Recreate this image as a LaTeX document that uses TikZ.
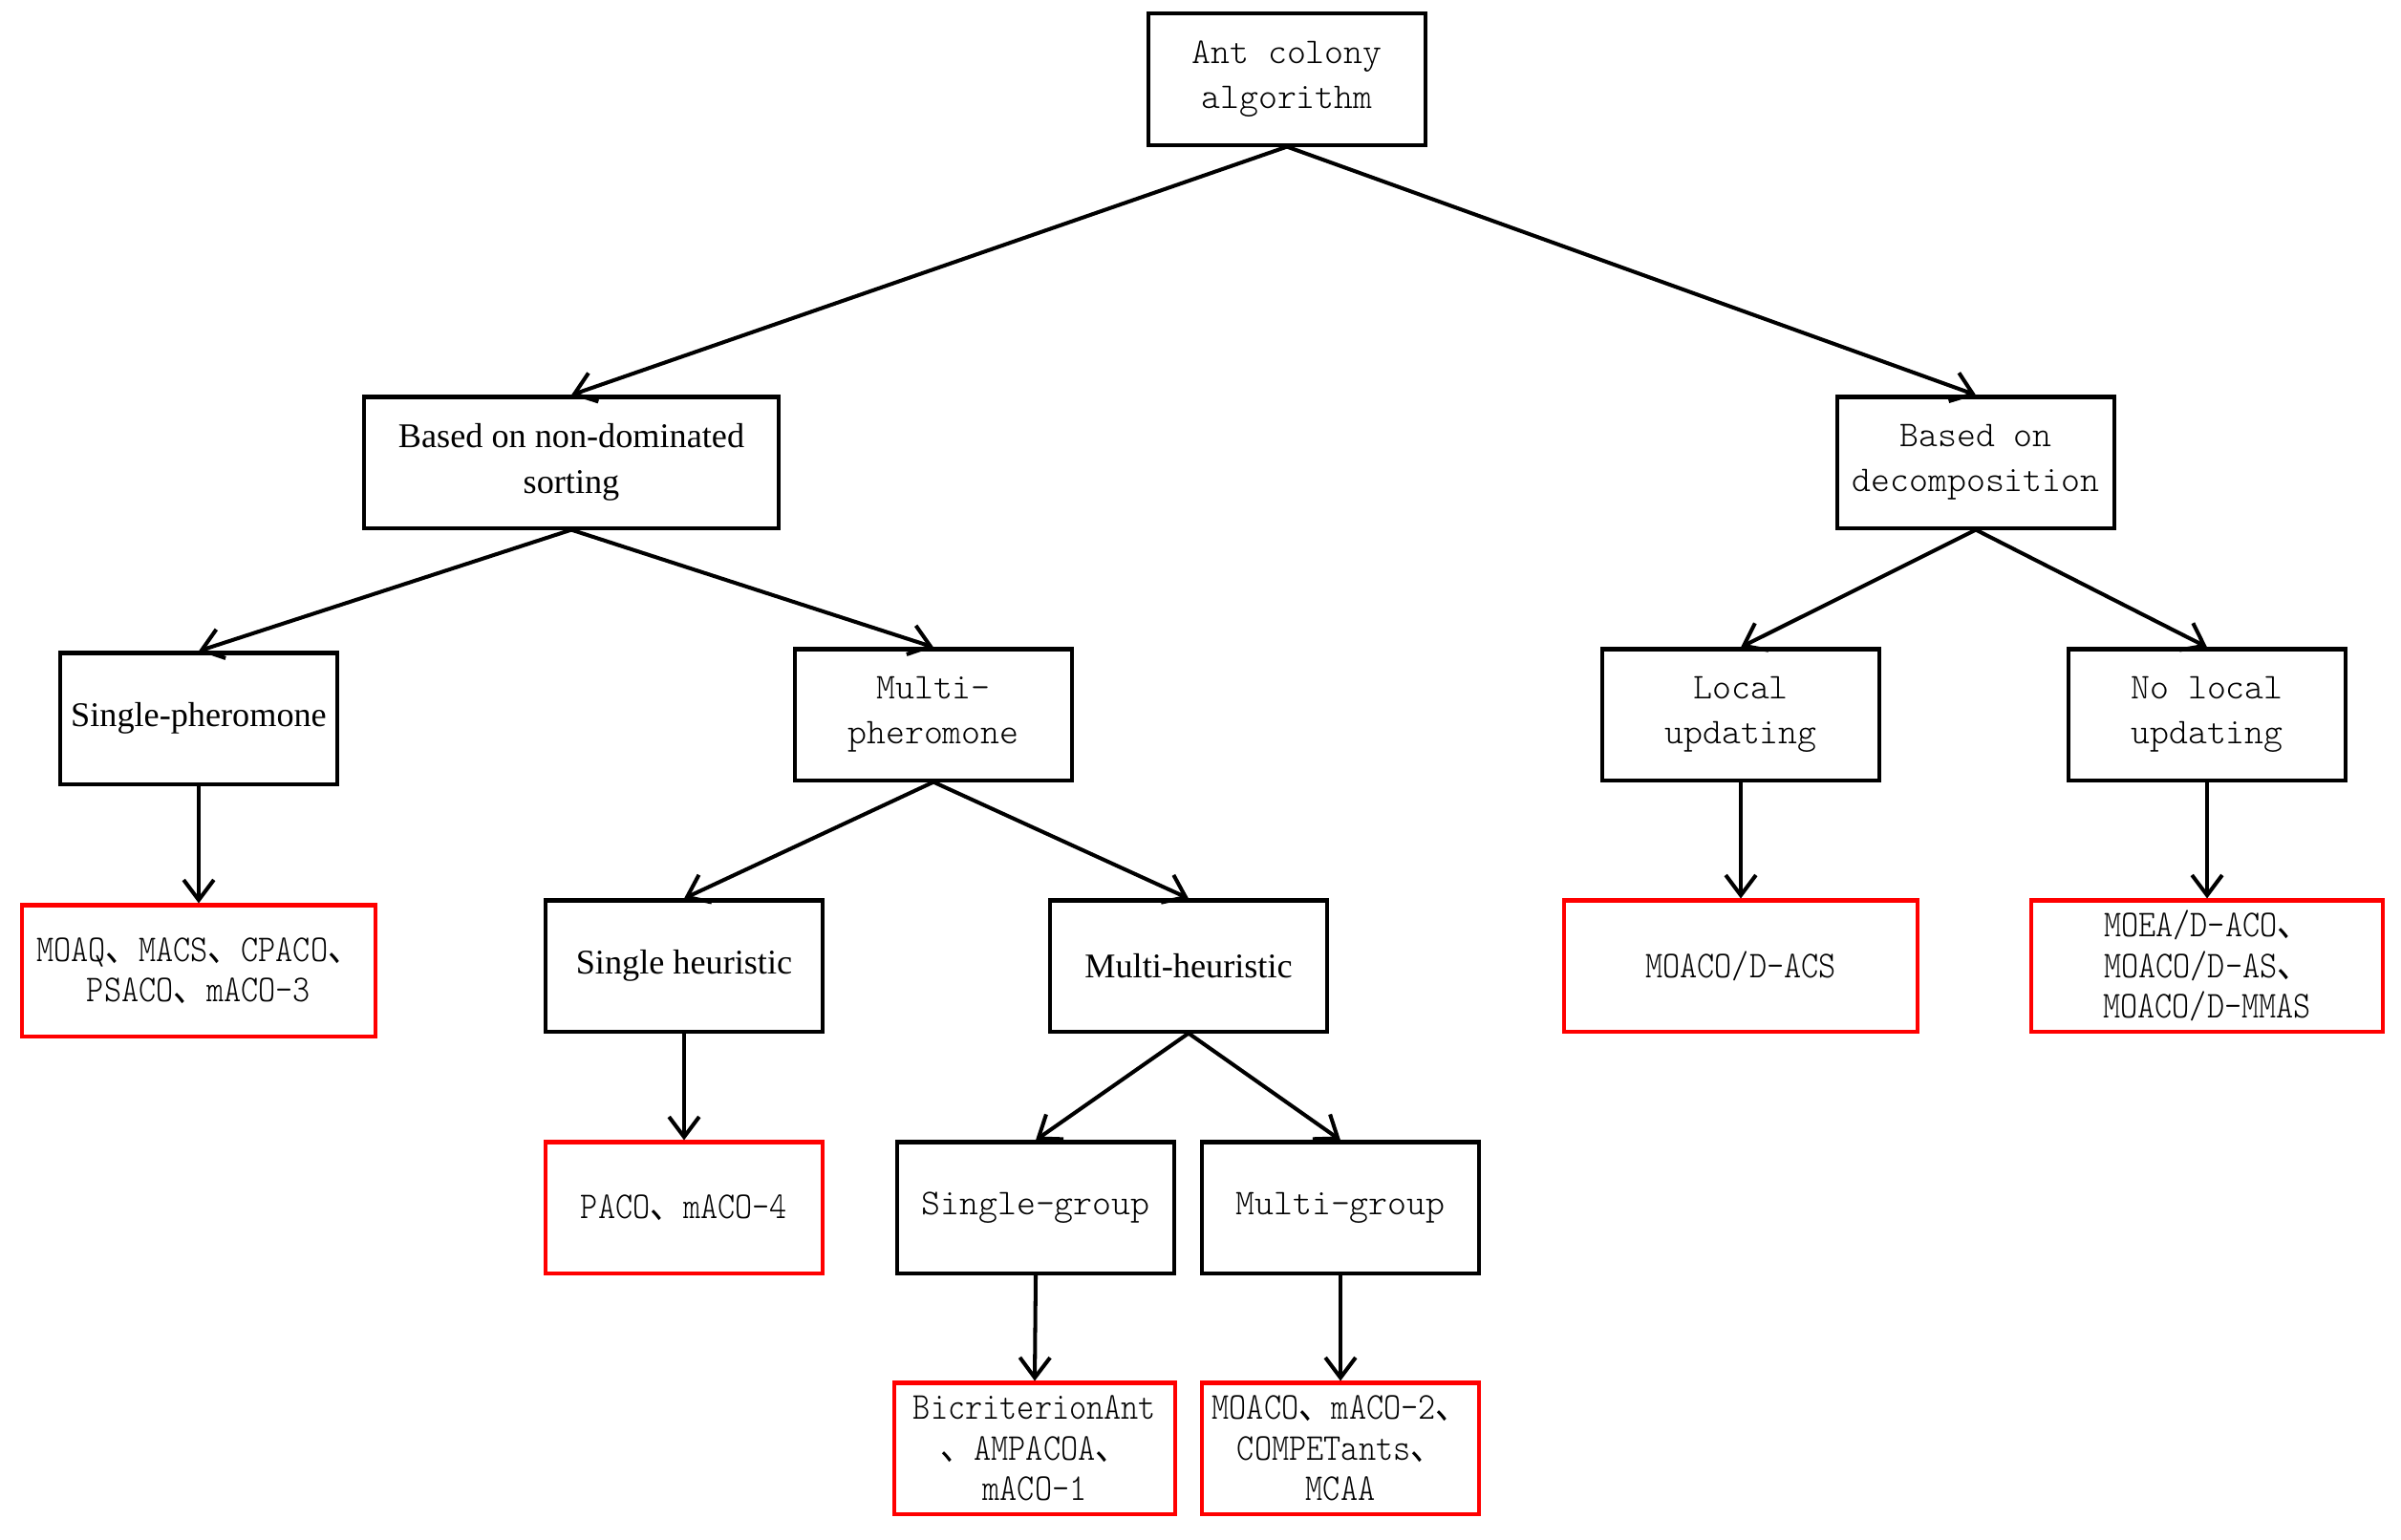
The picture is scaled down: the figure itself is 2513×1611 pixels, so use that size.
\documentclass[tikz,border=0pt]{standalone}
\usepackage{fontspec}
\setmainfont{Liberation Serif}
\newfontfamily\monoA{lmmonolt10-regular.otf}
\newfontfamily\monoR[FakeStretch=0.87]{lmmonolt10-regular.otf}
\newfontfamily\cjkR[FakeStretch=0.87]{Noto Sans CJK SC}
\usetikzlibrary{arrows.meta}
\newcommand\dn{{\cjkR 、}}
\begin{document}
\begin{tikzpicture}[x=0.01cm,y=-0.01cm,
  box/.style={draw, line width=1.15pt, inner sep=0pt, align=center, minimum height=1.37cm},
  bm/.style={box, minimum width=2.9cm, font={\monoA\fontsize{10.8}{13.3}\selectfont}},
  bt/.style={box, minimum width=2.9cm, font={\fontsize{10.3}{13.6}\selectfont}},
  rb/.style={box, draw=red, minimum width=2.9cm, font={\monoR\fontsize{11.3}{12.1}\selectfont}},
  arr/.style={line width=1.15pt, -{Straight Barb[length=6pt,width=9pt]}}
]
\useasboundingbox (0,0) rectangle (2513,1611);
\node[bm] (root) at (1347,83) {Ant colony\\algorithm};
\node[bt, minimum width=4.33cm] (nds) at (598,484) {Based on non-dominated\\sorting};
\node[bm] (dec) at (2068,484) {Based on\\decomposition};
\node[bt] (sp) at (208,752) {Single-pheromone};
\node[bm] (mp) at (977,748) {Multi-\\pheromone};
\node[bm] (lu) at (1822,748) {Local\\updating};
\node[bm] (nlu) at (2310,748) {No local\\updating};
\node[rb, minimum width=3.69cm] (r1) at (208,1016) {MOAQ\dn MACS\dn CPACO\dn\\PSACO\dn mACO-3};
\node[bt] (sh) at (716,1011) {Single heuristic};
\node[bt] (mh) at (1244,1011) {Multi-heuristic};
\node[rb, minimum width=3.69cm] (r5) at (1822,1011) {MOACO/D-ACS};
\node[rb, minimum width=3.67cm] (r6) at (2310,1011) {MOEA/D-ACO\dn\\MOACO/D-AS\dn\\MOACO/D-MMAS};
\node[rb] (r2) at (716,1264) {PACO\dn mACO-4};
\node[bm] (sg) at (1084,1264) {Single-group};
\node[bm] (mg) at (1403,1264) {Multi-group};
\node[rb, minimum width=2.93cm] (r3) at (1083,1516) {BicriterionAnt\\\dn AMPACOA\dn\\mACO-1};
\node[rb] (r4) at (1403,1516) {MOACO\dn mACO-2\dn\\COMPETants\dn\\MCAA};
\draw[arr] (root.south) -- (nds.north);
\draw[arr] (root.south) -- (dec.north);
\draw[arr] (nds.south) -- (sp.north);
\draw[arr] (nds.south) -- (mp.north);
\draw[arr] (dec.south) -- (lu.north);
\draw[arr] (dec.south) -- (nlu.north);
\draw[arr] (sp.south) -- (r1.north);
\draw[arr] (mp.south) -- (sh.north);
\draw[arr] (mp.south) -- (mh.north);
\draw[arr] (lu.south) -- (r5.north);
\draw[arr] (nlu.south) -- (r6.north);
\draw[arr] (sh.south) -- (r2.north);
\draw[arr] (mh.south) -- (sg.north);
\draw[arr] (mh.south) -- (mg.north);
\draw[arr] (sg.south) -- (r3.north);
\draw[arr] (mg.south) -- (r4.north);
\end{tikzpicture}
\end{document}
